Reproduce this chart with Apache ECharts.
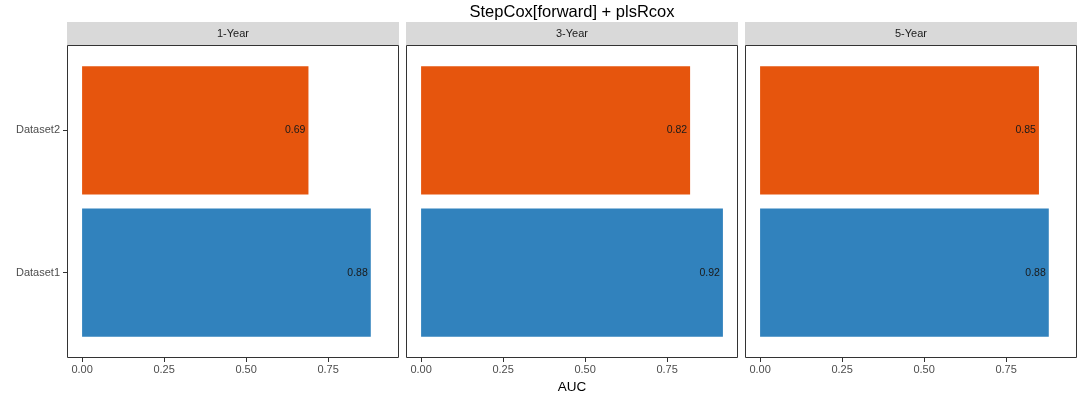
<!DOCTYPE html>
<html>
<head>
<meta charset="utf-8">
<script src="https://cdn.jsdelivr.net/npm/echarts@6/dist/echarts.min.js"></script>
<style>
  html, body { margin: 0; padding: 0; background: #fff; }
  #chart { width: 1080px; height: 397px; }
</style>
</head>
<body>
<div id="chart"></div>
<script>
// Datos del gráfico
const years = ['1-Year', '3-Year', '5-Year'];
const datasets = ['Dataset1', 'Dataset2'];
const auc1Year = [0.88, 0.69];
const auc3Year = [0.92, 0.82];
const auc5Year = [0.88, 0.85];
const xTicks = [0, 0.25, 0.5, 0.75];
const barColors = ['#3182BD', '#E6550D'];

const values = [auc1Year, auc3Year, auc5Year];

const chart = echarts.init(document.getElementById('chart'));

// Paneles (estilo facet de ggplot)
const panelLeft = [67, 406, 745];
const panelWidth = 332;
const panelTop = 45;
const panelHeight = 313;
const stripTop = 22;
const stripHeight = 23;
// ggplot expande la escala discreta 0.6 por lado: 0.4..2.6
const innerPad = panelHeight * 0.1 / 2.2;

const font = 'Liberation Sans, Arial, sans-serif';

const grids = [], xAxes = [], yAxes = [], series = [], graphics = [];

years.forEach((yr, i) => {
  grids.push({
    left: panelLeft[i],
    width: panelWidth,
    top: panelTop + innerPad,
    height: panelHeight - 2 * innerPad,
    outerBoundsMode: 'none',
    containLabel: false
  });
  xAxes.push({
    type: 'value',
    gridIndex: i,
    min: -0.046,
    max: 0.966,
    offset: innerPad,
    splitLine: { show: false },
    axisLine: { show: false, onZero: false },
    axisTick: {
      show: true,
      length: 4,
      customValues: xTicks,
      lineStyle: { color: '#333', width: 1 }
    },
    axisLabel: {
      customValues: xTicks,
      formatter: v => v.toFixed(2),
      color: '#4d4d4d',
      fontSize: 11,
      fontFamily: font,
      margin: 6
    }
  });
  yAxes.push({
    type: 'category',
    gridIndex: i,
    data: datasets,
    axisLine: { show: false, onZero: false },
    axisTick: {
      show: i === 0,
      length: 4,
      alignWithLabel: true,
      lineStyle: { color: '#333', width: 1 }
    },
    axisLabel: {
      show: i === 0,
      color: '#4d4d4d',
      fontSize: 11,
      fontFamily: font,
      margin: 7
    },
    splitLine: { show: false }
  });
  series.push({
    type: 'bar',
    xAxisIndex: i,
    yAxisIndex: i,
    barWidth: '90%',
    data: values[i],
    itemStyle: {
      color: p => barColors[p.dataIndex]
    },
    label: {
      show: true,
      position: 'insideRight',
      distance: 3,
      color: '#1a1a1a',
      fontSize: 10.5,
      fontFamily: font,
      formatter: p => p.value.toFixed(2)
    },
    silent: true
  });

  // tira gris y borde del panel
  graphics.push({
    type: 'rect',
    shape: { x: panelLeft[i], y: stripTop, width: panelWidth, height: stripHeight },
    style: { fill: '#D9D9D9' }
  });
  graphics.push({
    type: 'text',
    x: panelLeft[i] + panelWidth / 2,
    y: stripTop + stripHeight / 2,
    style: {
      text: yr,
      fill: '#1a1a1a',
      font: '11px ' + font,
      textAlign: 'center',
      textVerticalAlign: 'middle'
    }
  });
  graphics.push({
    type: 'rect',
    shape: { x: panelLeft[i] + 0.5, y: panelTop + 0.5, width: panelWidth - 1, height: panelHeight - 1 },
    style: { fill: 'none', stroke: '#333', lineWidth: 1 },
    z: 10
  });
});

chart.setOption({
  animation: false,
  title: [
    {
      text: 'StepCox[forward] + plsRcox',
      left: 567,
      top: -1,
      textAlign: 'center',
      textStyle: { fontSize: 16.5, fontWeight: 'normal', color: '#000', fontFamily: font }
    },
    {
      text: 'AUC',
      left: 567,
      top: 375,
      textAlign: 'center',
      textStyle: { fontSize: 13.5, fontWeight: 'normal', color: '#000', fontFamily: font }
    }
  ],
  grid: grids,
  xAxis: xAxes,
  yAxis: yAxes,
  series: series,
  graphic: graphics
});

window.addEventListener('resize', () => chart.resize());
</script>
</body>
</html>
